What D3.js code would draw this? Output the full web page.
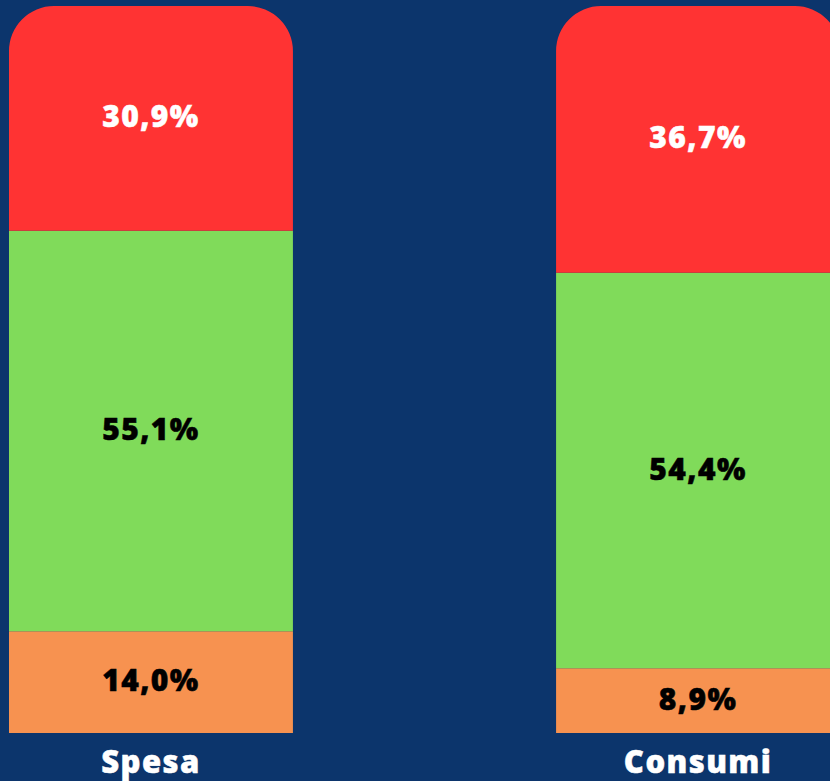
<!DOCTYPE html>
<html>
<head>
<meta charset="utf-8">
<script src="https://cdn.jsdelivr.net/npm/d3@7"></script>
<style>
  html, body { margin: 0; padding: 0; background: #0c356c; }
  #chart { width: 830px; height: 781px; overflow: hidden; }
  text { font-family: "Open Sans", sans-serif; font-weight: 800; letter-spacing: 1.4px; }
</style>
</head>
<body>
<div id="chart"></div>
<script>
// Dati
const categories = ['Spesa', 'Consumi'];
const seriesNames = ['basso', 'medio', 'alto'];
const basso = [14.0, 8.9];
const medio = [55.1, 54.4];
const alto = [30.9, 36.7];
const seriesColors = ['#f79250', '#80db5a', '#ff3333'];
const labelColors = ['#000000', '#000000', '#ffffff'];

const width = 830, height = 781;
const container = d3.select('#chart');
const svg = container.append('svg')
    .attr('width', width)
    .attr('height', height);

// Tabella per lo stack
const table = categories.map((c, i) => ({cat: c, basso: basso[i], medio: medio[i], alto: alto[i]}));
const stacked = d3.stack().keys(seriesNames)(table);

// Scale
const x = d3.scaleBand()
    .domain(categories)
    .range([9, 840])
    .paddingInner(0.481)
    .paddingOuter(0);

const y = d3.scaleLinear()
    .domain([0, 100])
    .range([733, 6]);

const radius = 45;

// Barre con angoli superiori arrotondati
stacked.forEach((layer, li) => {
    const g = svg.append('g');
    const isTop = li === stacked.length - 1;
    g.selectAll('path')
        .data(layer)
        .enter()
        .append('path')
        .attr('fill', seriesColors[li])
        .attr('d', d => {
            const x0 = x(d.data.cat), x1 = x0 + x.bandwidth();
            const y0 = y(d[1]), y1 = y(d[0]);
            if (!isTop) return `M${x0},${y0}H${x1}V${y1}H${x0}Z`;
            const r = radius;
            return `M${x0},${y1}V${y0 + r}A${r},${r} 0 0 1 ${x0 + r},${y0}H${x1 - r}A${r},${r} 0 0 1 ${x1},${y0 + r}V${y1}Z`;
        });

    g.selectAll('text')
        .data(layer)
        .enter()
        .append('text')
        .attr('x', d => x(d.data.cat) + x.bandwidth() / 2)
        .attr('y', d => (y(d[0]) + y(d[1])) / 2)
        .attr('dy', '0.3em')
        .attr('text-anchor', 'middle')
        .style('font-size', '30px')
        .style('fill', labelColors[li])
        .style('stroke', labelColors[li])
        .style('stroke-width', 0.5)
        .text(d => d3.format('.1f')(d[1] - d[0]).replace('.', ',') + '%');
});

// Etichette delle categorie
svg.append('g')
    .selectAll('text')
    .data(categories)
    .enter()
    .append('text')
    .attr('x', d => x(d) + x.bandwidth() / 2)
    .attr('y', 773)
    .attr('text-anchor', 'middle')
    .style('font-size', '31px')
    .style('fill', '#ffffff')
    .style('stroke', '#ffffff')
    .style('stroke-width', 0.5)
    .text(d => d);
</script>
</body>
</html>
